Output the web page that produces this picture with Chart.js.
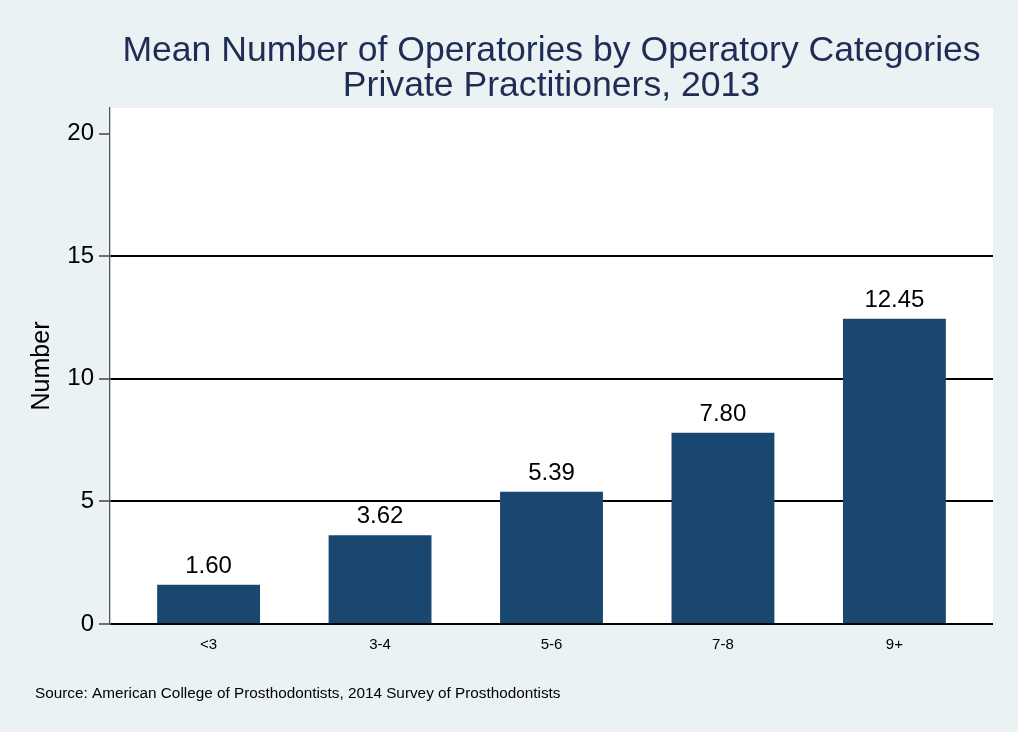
<!DOCTYPE html>
<html>
<head>
<meta charset="utf-8">
<script src="https://cdn.jsdelivr.net/npm/chart.js@4"></script>
<style>
  html, body { margin: 0; padding: 0; background: #eaf2f3; }
  canvas { display: block; }
</style>
</head>
<body>
<canvas id="c" width="1018" height="732"></canvas>
<script>
const categories = ['<3', '3-4', '5-6', '7-8', '9+'];
const meanOperatories = [1.60, 3.62, 5.39, 7.80, 12.45];
const yTicks = [0, 5, 10, 15, 20];
const gridValues = [0, 5, 10, 15];
const titleLines = ['Mean Number of Operatories by Operatory Categories', 'Private Practitioners, 2013'];
const sourceNote = 'Source: American College of Prosthodontists, 2014 Survey of Prosthodontists';

const FONT = '"Liberation Sans", Arial, Helvetica, sans-serif';
const BG = '#eaf2f3';
const BAR = '#1a476f';

const bgPlugin = {
  id: 'bg',
  beforeDraw(chart) {
    const { ctx, chartArea: a } = chart;
    ctx.save();
    ctx.fillStyle = BG;
    ctx.fillRect(0, 0, chart.width, chart.height);
    ctx.fillStyle = '#ffffff';
    ctx.fillRect(a.left, a.top, a.right - a.left, a.bottom - a.top);
    ctx.restore();
  }
};

const valueLabels = {
  id: 'valueLabels',
  afterDatasetsDraw(chart) {
    const { ctx } = chart;
    const meta = chart.getDatasetMeta(0);
    ctx.save();
    ctx.font = '24px ' + FONT;
    ctx.fillStyle = '#000';
    ctx.textAlign = 'center';
    ctx.textBaseline = 'alphabetic';
    meta.data.forEach((bar, i) => {
      ctx.fillText(meanOperatories[i].toFixed(2), bar.x, bar.y - 12);
    });
    ctx.restore();
  }
};

const sourcePlugin = {
  id: 'sourceNote',
  afterDraw(chart) {
    const { ctx } = chart;
    ctx.save();
    ctx.font = '15.3px ' + FONT;
    ctx.fillStyle = '#000';
    ctx.textAlign = 'left';
    ctx.textBaseline = 'alphabetic';
    ctx.fillText(sourceNote, 35, 697.5);
    ctx.restore();
  }
};

new Chart(document.getElementById('c'), {
  type: 'bar',
  data: {
    datasets: [{
      data: meanOperatories.map((v, i) => ({ x: i, y: v })),
      backgroundColor: BAR,
      borderWidth: 0,
      barPercentage: 0.6,
      categoryPercentage: 1.0
    }]
  },
  options: {
    responsive: false,
    animation: false,
    layout: { padding: { left: 0, right: 25, top: 0, bottom: 0 } },
    plugins: {
      legend: { display: false },
      tooltip: { enabled: false },
      title: {
        display: true,
        text: titleLines,
        fullSize: false,
        color: '#1f2d56',
        font: { family: FONT, size: 35.6, weight: 'normal', lineHeight: 1.011 },
        padding: { top: 32.7, bottom: 3.3 }
      }
    },
    scales: {
      x: {
        type: 'linear',
        offset: false,
        min: -0.575,
        max: 4.575,
        grid: { display: false, drawTicks: false, offset: false },
        border: { display: false },
        afterBuildTicks(scale) {
          scale.ticks = categories.map((c, i) => ({ value: i }));
        },
        afterFit(scale) { scale.height = 108; },
        ticks: {
          autoSkip: false,
          maxRotation: 0,
          padding: 12,
          color: '#000',
          font: { family: FONT, size: 15 },
          callback: (v) => categories[v]
        }
      },
      y: {
        min: 0,
        max: 21.05,
        afterBuildTicks(scale) {
          scale.ticks = yTicks.map(v => ({ value: v }));
        },
        afterFit(scale) { scale.width = 110; },
        grid: {
          color: (ctx) => (ctx.tick && gridValues.includes(ctx.tick.value)) ? '#000' : 'rgba(0,0,0,0)',
          lineWidth: 2,
          tickLength: 11,
          tickColor: '#444',
          tickWidth: 1.5
        },
        border: { display: true, color: '#555', width: 1.3 },
        ticks: {
          padding: 5,
          color: '#000',
          font: { family: FONT, size: 24 },
          callback: (v) => String(v)
        },
        title: {
          display: true,
          text: 'Number',
          color: '#000',
          font: { family: FONT, size: 25 },
          padding: { top: 27, bottom: 0 }
        }
      }
    }
  },
  plugins: [bgPlugin, valueLabels, sourcePlugin]
});
</script>
</body>
</html>
